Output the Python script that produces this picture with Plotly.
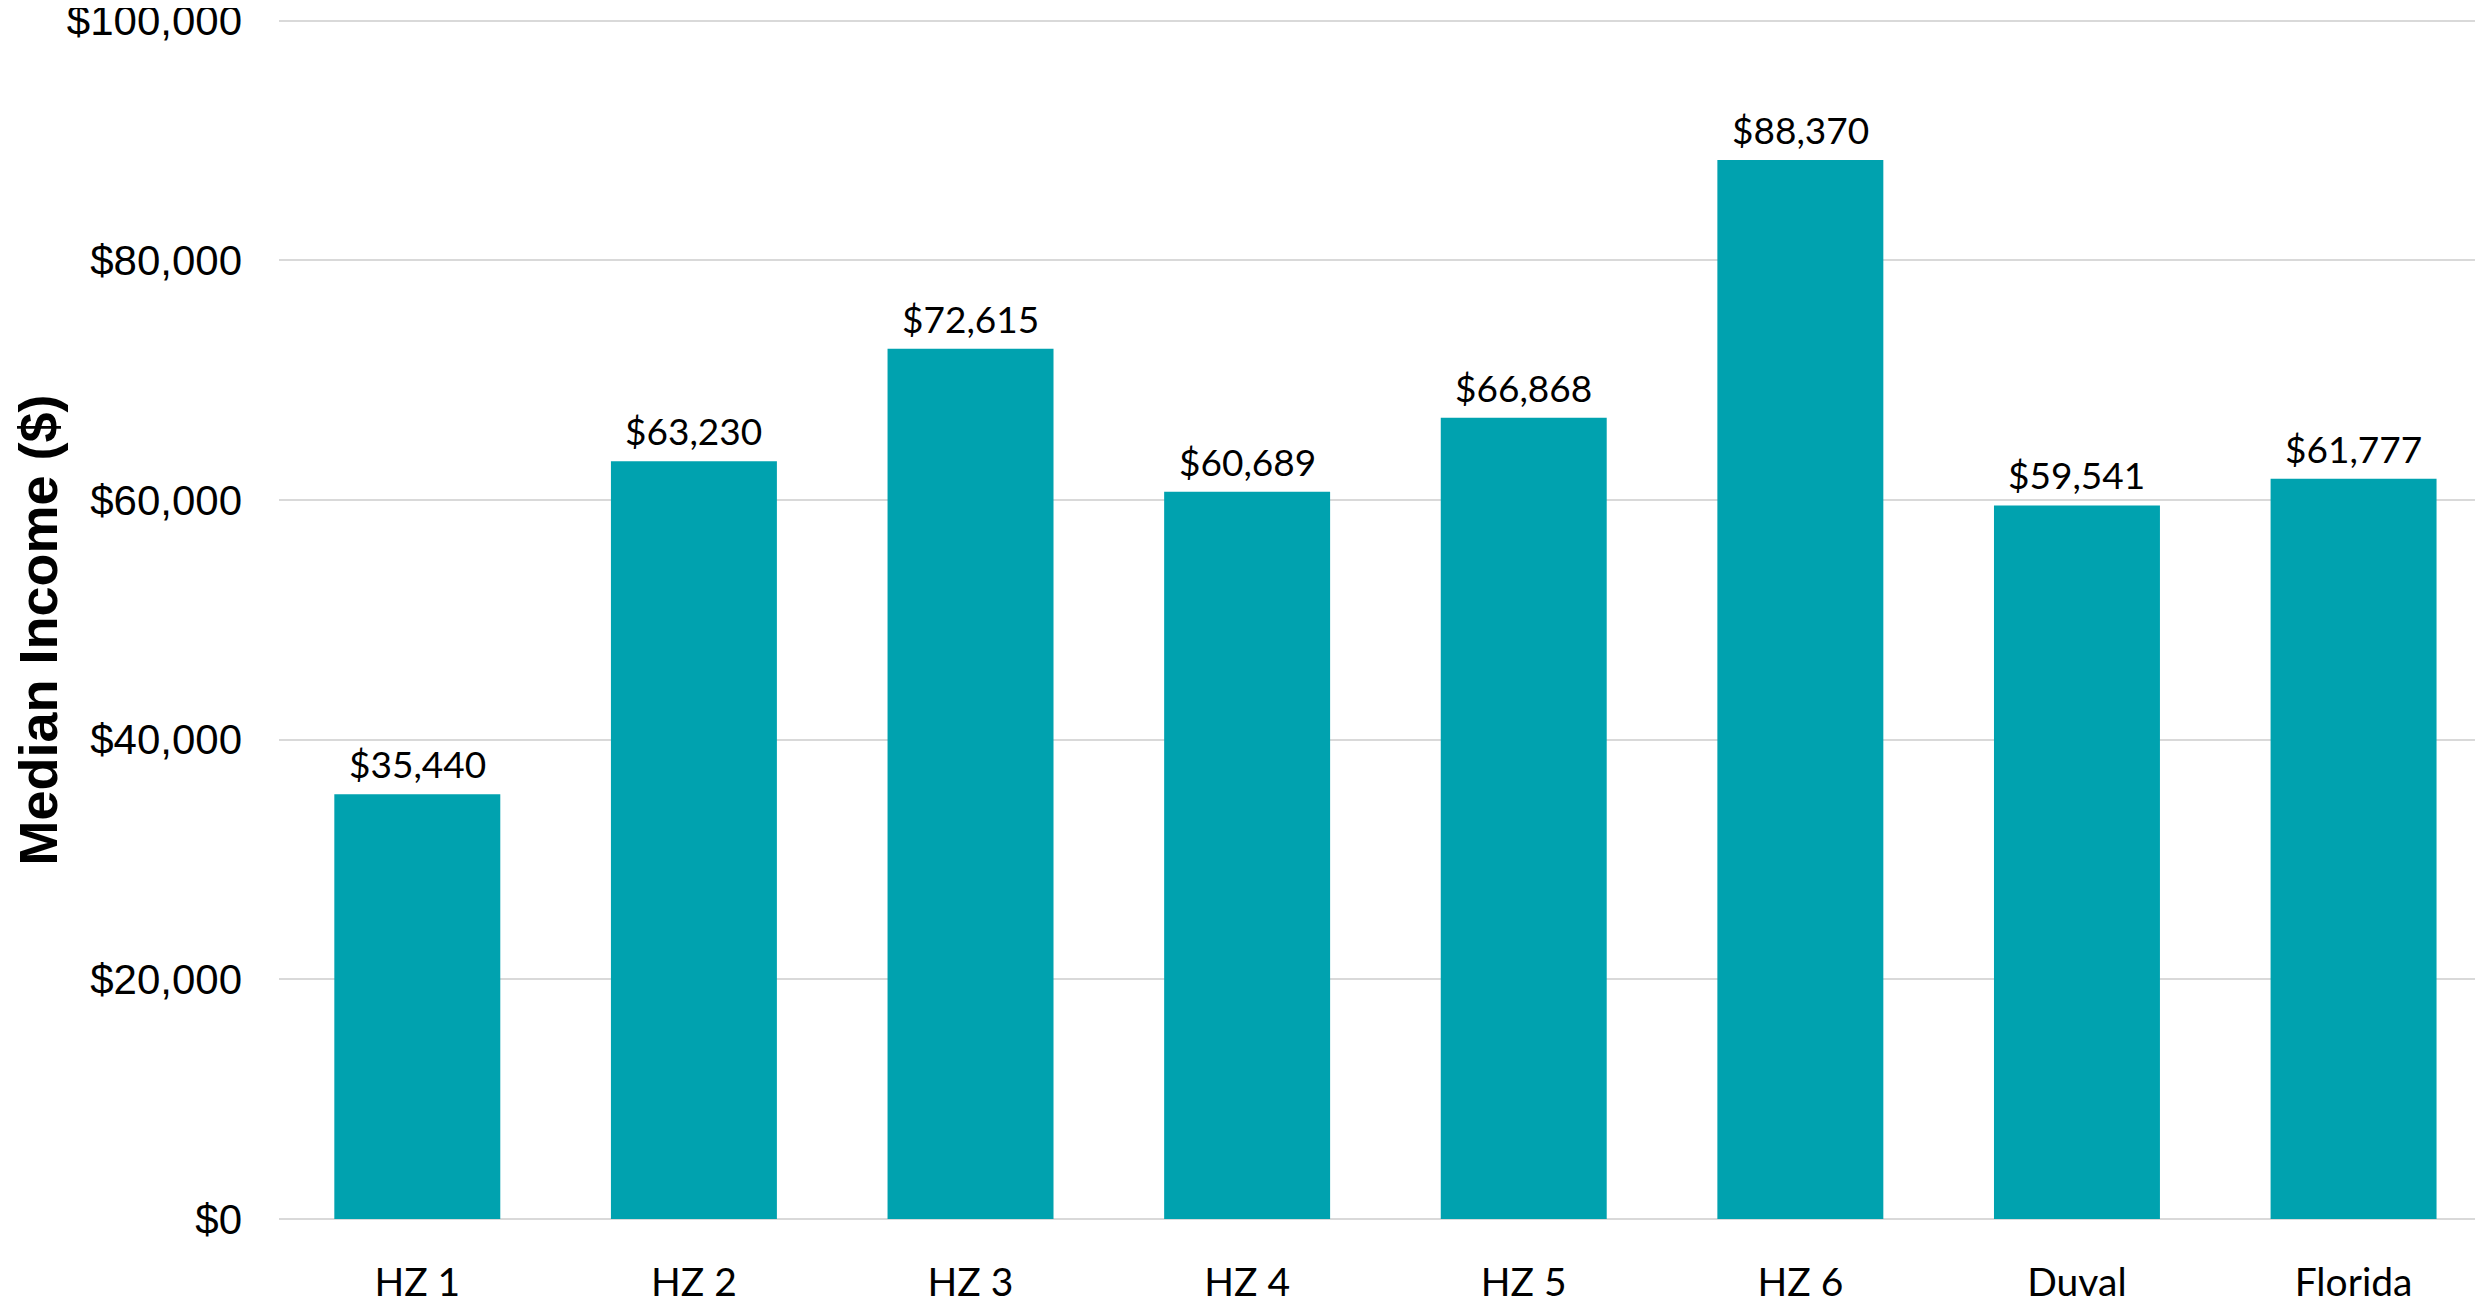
import plotly.graph_objects as go

categories = ["HZ 1", "HZ 2", "HZ 3", "HZ 4", "HZ 5", "HZ 6", "Duval", "Florida"]
median_income = [35440, 63230, 72615, 60689, 66868, 88370, 59541, 61777]
y_tick_values = [0, 20000, 40000, 60000, 80000, 100000]
y_tick_labels = ["$0", "$20,000", "$40,000", "$60,000", "$80,000", "$100,000"]

BAR_COLOR = "#00A2AF"
GRID_COLOR = "#D9D9D9"

fig = go.Figure()
fig.add_trace(go.Bar(
    x=list(range(len(categories))),
    y=median_income,
    width=0.6,
    marker=dict(color=BAR_COLOR, line=dict(width=0)),
    hoverinfo="skip",
))

for i, v in enumerate(median_income):
    fig.add_annotation(
        x=i, y=v, xref="x", yref="y",
        text=f"${v:,}",
        showarrow=False,
        yanchor="bottom",
        yshift=6,
        font=dict(family="Lato, Carlito, sans-serif", size=37, color="#000000"),
    )

# page body has an 8px margin, so the figure is sized to fit the window exactly
fig.update_layout(
    width=2467, height=1288,
    margin=dict(l=271, r=0, t=3, b=77, pad=0),
    paper_bgcolor="white", plot_bgcolor="white",
    showlegend=False,
    bargap=0.4,
)

fig.update_xaxes(
    tickmode="array",
    tickvals=list(range(len(categories))),
    ticktext=categories,
    range=[-0.5, 7.439],
    showgrid=False,
    zeroline=False,
    showline=False,
    ticks="",
    automargin=False,
    ticklabelstandoff=37,
    tickfont=dict(family="Lato, Carlito, sans-serif", size=39, color="#000000"),
)

fig.update_yaxes(
    range=[0, 100800],
    tickmode="array",
    tickvals=y_tick_values,
    ticktext=y_tick_labels,
    showgrid=True, gridcolor=GRID_COLOR, gridwidth=2,
    zeroline=True, zerolinecolor=GRID_COLOR, zerolinewidth=2,
    showline=False,
    ticks="",
    automargin=False,
    ticklabeloverflow="allow",
    ticklabelstandoff=36,
    tickfont=dict(family="Liberation Sans, Arial, sans-serif", size=42, color="#000000"),
    title=dict(
        text="<b>Median Income ($)\u00a0\u00a0</b>",
        font=dict(family="Liberation Sans, Arial, sans-serif", size=54, color="#000000"),
        standoff=0,
    ),
)

fig.write_html("out.html")
